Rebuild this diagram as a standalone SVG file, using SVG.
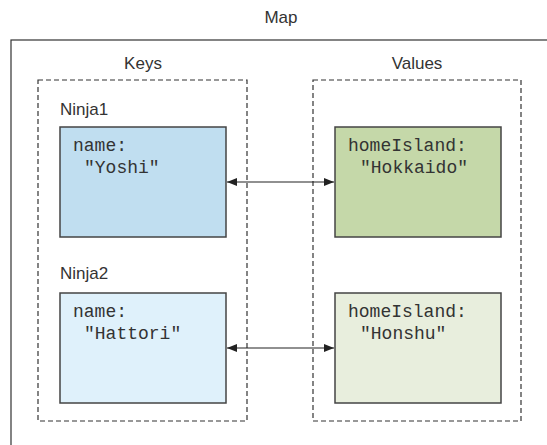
<svg xmlns="http://www.w3.org/2000/svg" width="547" height="445" viewBox="0 0 547 445">
<style>
.lbl{font-family:"Liberation Sans",Arial,sans-serif;font-size:17px;fill:#333}
.code{font-family:"Liberation Mono","Courier New",monospace;font-size:18px;fill:#333}
.dash{fill:none;stroke:#333;stroke-width:1.2;stroke-dasharray:5,3}
.box{stroke:#444;stroke-width:1.5}
.conn{stroke:#222;stroke-width:1.2;fill:none}
</style>
<defs>
<marker id="ah" viewBox="0 0 10 8" refX="10" refY="4" markerWidth="10" markerHeight="8" markerUnits="userSpaceOnUse" orient="auto-start-reverse">
<path d="M0,0 L10,4 L0,8 z" fill="#222"/>
</marker>
</defs>
<rect width="547" height="445" fill="#fff"/>
<g id="map">
<rect x="11" y="40" width="600" height="500" fill="none" stroke="#333" stroke-width="1.2"/>
<text class="lbl" x="281" y="23" text-anchor="middle">Map</text>
</g>
<g id="keys">
<rect class="dash" x="38" y="80" width="209" height="341"/>
<text class="lbl" x="143" y="69" text-anchor="middle">Keys</text>
</g>
<g id="values">
<rect class="dash" x="313" y="80" width="208" height="341"/>
<text class="lbl" x="417" y="69" text-anchor="middle">Values</text>
</g>
<g id="ninja1">
<text class="lbl" x="60" y="115">Ninja1</text>
<rect class="box" x="60" y="127" width="166" height="110" fill="#c0def0"/>
<text class="code" x="73" y="151">name:</text>
<text class="code" x="84" y="173">"Yoshi"</text>
</g>
<g id="ninja2">
<text class="lbl" x="60" y="279">Ninja2</text>
<rect class="box" x="60" y="293" width="166" height="110" fill="#dff1fb"/>
<text class="code" x="73" y="317">name:</text>
<text class="code" x="84" y="339">"Hattori"</text>
</g>
<g id="hokkaido">
<rect class="box" x="335" y="127" width="166" height="110" fill="#c5d8a9"/>
<text class="code" x="348" y="151">homeIsland:</text>
<text class="code" x="360" y="173">"Hokkaido"</text>
</g>
<g id="honshu">
<rect class="box" x="335" y="293" width="166" height="110" fill="#e8eedd"/>
<text class="code" x="348" y="317">homeIsland:</text>
<text class="code" x="360" y="339">"Honshu"</text>
</g>
<g id="connectors">
<line class="conn" x1="227" y1="182" x2="334" y2="182" marker-start="url(#ah)" marker-end="url(#ah)"/>
<line class="conn" x1="227" y1="348" x2="334" y2="348" marker-start="url(#ah)" marker-end="url(#ah)"/>
</g>
</svg>
